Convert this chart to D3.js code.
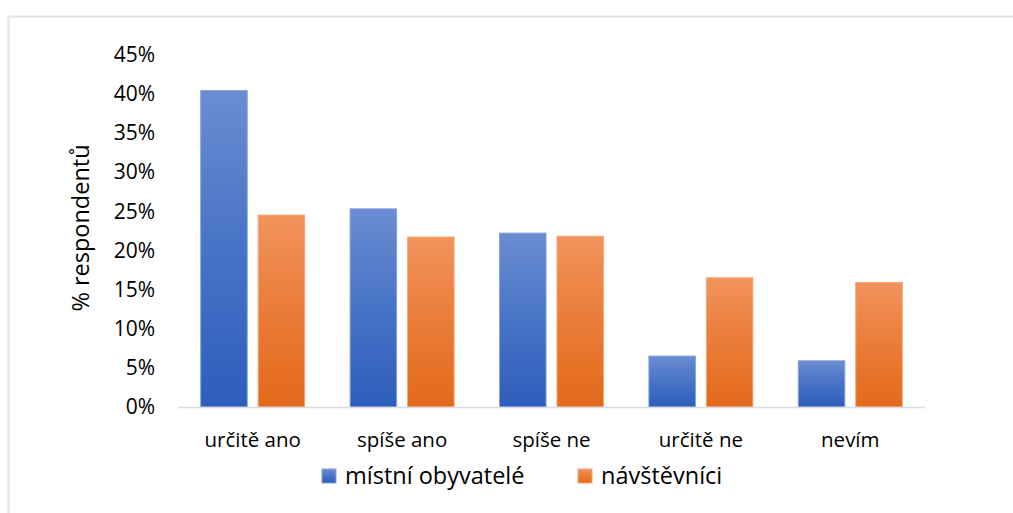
<!DOCTYPE html>
<html><head><meta charset="utf-8">
<script src="https://cdn.jsdelivr.net/npm/d3@7"></script>
<style>body{margin:0;background:#fff}svg{display:block}text{font-family:"Open Sans",sans-serif;fill:#000}</style>
</head><body><svg id="c" width="1013" height="513"></svg>
<script>
const categories = ["určitě ano","spíše ano","spíše ne","určitě ne","nevím"];
const seriesNames = ["místní obyvatelé","návštěvníci"];
const mistni = [40.4, 25.3, 22.2, 6.5, 5.9];
const navstevnici = [24.5, 21.7, 21.8, 16.5, 15.9];
const yTicks = [0,5,10,15,20,25,30,35,40,45];
const yTitle = "% respondentů";

const svg = d3.select("#c");
const W = 1013, H = 513;
// frame lines
svg.append("line").attr("x1",8).attr("x2",W).attr("y1",16.5).attr("y2",16.5).attr("stroke","#e2e4ea").attr("stroke-width",2);
svg.append("line").attr("x1",8.5).attr("x2",8.5).attr("y1",16).attr("y2",H).attr("stroke","#e2e4ea").attr("stroke-width",2);

const defs = svg.append("defs");
const grads = [["gBlue","#6a8cd2","#2d5ebc"],["gOrange","#f2935c","#e3691a"]];
grads.forEach(([id,c1,c2])=>{
  const g = defs.append("linearGradient").attr("id",id).attr("x1",0).attr("y1",0).attr("x2",0).attr("y2",1);
  g.append("stop").attr("offset","0%").attr("stop-color",c1);
  g.append("stop").attr("offset","50%").attr("stop-color",d3.interpolateRgb(c1,c2)(0.55));
  g.append("stop").attr("offset","100%").attr("stop-color",c2);
});
const fills = ["url(#gBlue)","url(#gOrange)"];
const strokes = ["#86a2dc","#f5a878"];

const x0 = d3.scaleBand().domain(categories).range([178,925]).paddingInner(0).paddingOuter(0);
const x1 = d3.scaleBand().domain([0,1]).range([22.7, x0.bandwidth()-22.7]).paddingInner(0.19);
const y = d3.scaleLinear().domain([0,45]).range([407,54.5]);

// y tick labels
svg.append("g").selectAll("text").data(yTicks).join("text")
  .attr("x",155).attr("y",d=>y(d)).attr("dy","0.35em").attr("text-anchor","end")
  .style("font-size","21px").text(d=>d+"%");

// y title
svg.append("text").attr("transform",`translate(89,228) rotate(-90)`).attr("text-anchor","middle")
  .style("font-size","23.5px").text(yTitle);

// bars
const data = categories.map((c,i)=>({c, v:[mistni[i], navstevnici[i]]}));
const grp = svg.append("g").selectAll("g").data(data).join("g").attr("transform",d=>`translate(${x0(d.c)},0)`);
grp.selectAll("rect").data(d=>d.v.map((v,k)=>({v,k}))).join("rect")
  .attr("x",d=>x1(d.k)).attr("width",x1.bandwidth())
  .attr("y",d=>y(d.v)).attr("height",d=>y(0)-y(d.v))
  .attr("fill",d=>fills[d.k]).attr("stroke",d=>strokes[d.k]).attr("stroke-width",1);

// axis line
svg.append("line").attr("x1",178).attr("x2",925).attr("y1",407.5).attr("y2",407.5).attr("stroke","#d9dce6").attr("stroke-width",1.5);

// category labels
svg.append("g").selectAll("text").data(categories).join("text")
  .attr("x",d=>x0(d)+x0.bandwidth()/2).attr("y",447).attr("text-anchor","middle")
  .style("font-size","20.5px").text(d=>d);

// legend
const leg = [{x:322, t:seriesNames[0]},{x:578, t:seriesNames[1]}];
leg.forEach((l,k)=>{
  svg.append("rect").attr("x",l.x).attr("y",469).attr("width",14).attr("height",14).attr("fill",fills[k]).attr("stroke",strokes[k]);
  svg.append("text").attr("x",l.x+23).attr("y",484).style("font-size","23.5px").text(l.t);
});
</script></body></html>
